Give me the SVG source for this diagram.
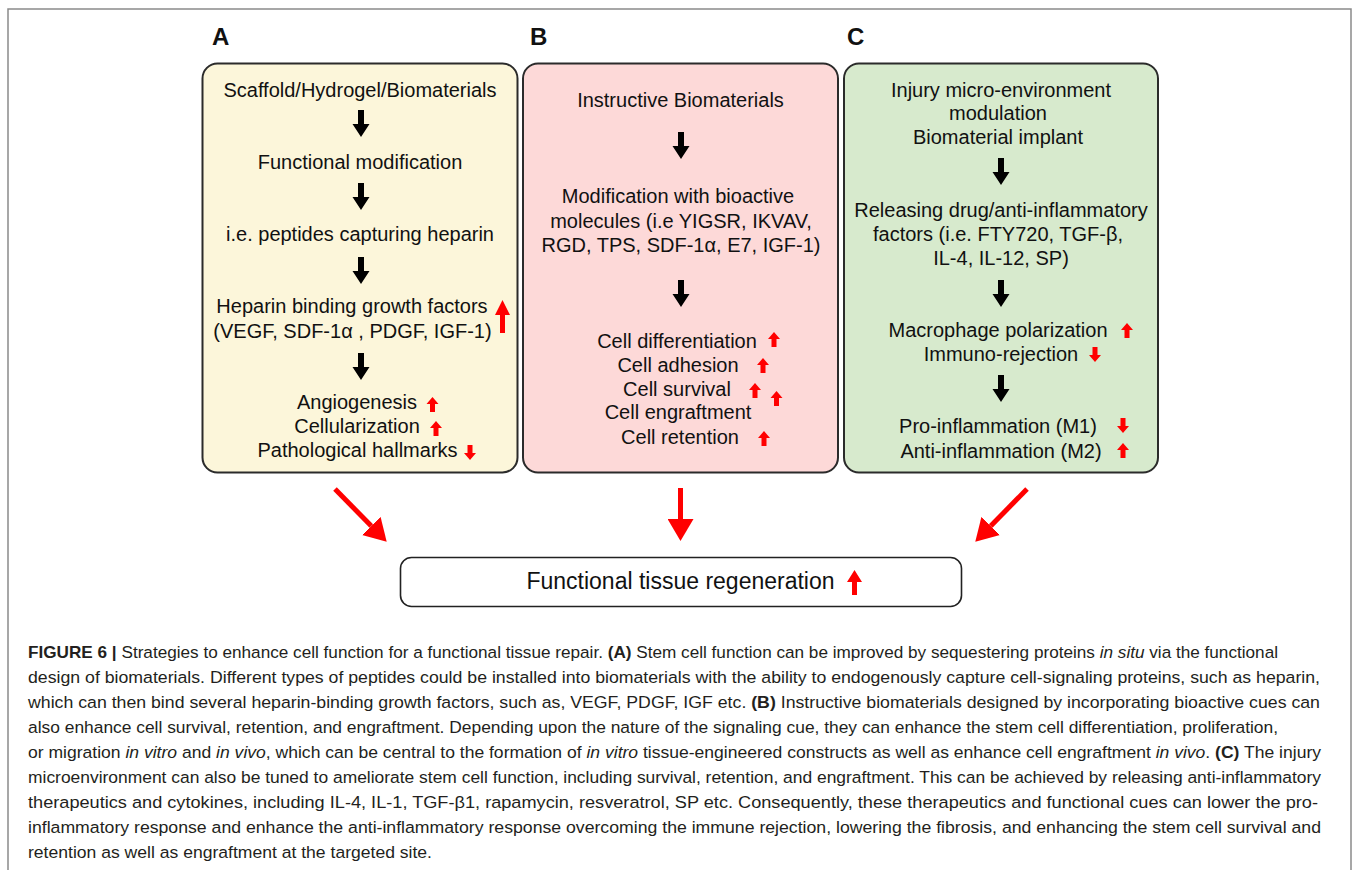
<svg xmlns="http://www.w3.org/2000/svg" width="1354" height="870" viewBox="0 0 1354 870">
<style>
.frame{fill:none;stroke:#8a8a8a;stroke-width:1.5}
.panel{stroke:#2b2b2b;stroke-width:2}
.t{font-family:"Liberation Sans",Arial,sans-serif;font-size:20px;fill:#111;text-anchor:middle}
.lbl{font-family:"Liberation Sans",Arial,sans-serif;font-size:24px;font-weight:bold;fill:#111}
.cap{font-family:"Liberation Sans",Arial,sans-serif;font-size:16.7px;fill:#231f20}
.b{font-weight:bold}
.i{font-style:italic}
.blk{fill:#000}
.red{fill:#ff0000}
.conn{stroke:#ff0000;stroke-width:5;fill:none}
</style>
<defs>
<path id="barrow" d="M-3,0 H3 V14 H8.5 L0,27 L-8.5,14 H-3 Z"/>
<path id="rup" d="M0,0 L6,7 H2.5 V15 H-2.5 V7 H-6 Z"/>
<path id="rdown" d="M-2.5,0 H2.5 V8 H6 L0,15 L-6,8 H-2.5 Z"/>
<marker id="rhead" markerUnits="userSpaceOnUse" markerWidth="22" markerHeight="26" viewBox="0 0 22 26" refX="0" refY="13" orient="auto">
<path d="M0,0 L22,13 L0,26 Z" fill="#ff0000"/>
</marker>
</defs>
<rect width="1354" height="870" fill="#fff"/>
<path class="frame" d="M8,870 V9 H1351 V870"/>

<g id="panel-A">
<text class="lbl" x="212" y="45">A</text>
<rect class="panel" x="202.5" y="63.5" width="315" height="409" rx="15" fill="#fcf6da"/>
<text class="t" x="360" y="97">Scaffold/Hydrogel/Biomaterials</text>
<use href="#barrow" x="361" y="110" class="blk"/>
<text class="t" x="360" y="169">Functional modification</text>
<use href="#barrow" x="361" y="183" class="blk"/>
<text class="t" x="360" y="241">i.e. peptides capturing heparin</text>
<use href="#barrow" x="361" y="257" class="blk"/>
<text class="t" x="352" y="313">Heparin binding growth factors</text>
<text class="t" x="352.5" y="338">(VEGF, SDF-1α , PDGF, IGF-1)</text>
<path class="red" d="M502.5,300 L510,315 H505 V333 H500 V315 H495 Z"/>
<use href="#barrow" x="361" y="353" class="blk"/>
<text class="t" x="357" y="409">Angiogenesis</text>
<use href="#rup" x="432.5" y="397" class="red"/>
<text class="t" x="357" y="433">Cellularization</text>
<use href="#rup" x="436" y="421" class="red"/>
<text class="t" x="357.5" y="457">Pathological hallmarks</text>
<use href="#rdown" x="470" y="445" class="red"/>
</g>

<g id="panel-B">
<text class="lbl" x="530" y="45">B</text>
<rect class="panel" x="523" y="63.5" width="315" height="409" rx="15" fill="#fdd9d8"/>
<text class="t" x="680.5" y="107">Instructive Biomaterials</text>
<use href="#barrow" x="681" y="132" class="blk"/>
<text class="t" x="678" y="203">Modification with bioactive</text>
<text class="t" x="681" y="228">molecules (i.e YIGSR, IKVAV,</text>
<text class="t" x="681" y="252">RGD, TPS, SDF-1α, E7, IGF-1)</text>
<use href="#barrow" x="681" y="280" class="blk"/>
<text class="t" x="677" y="348">Cell differentiation</text>
<use href="#rup" x="774" y="332" class="red"/>
<text class="t" x="678" y="372">Cell adhesion</text>
<use href="#rup" x="763" y="358" class="red"/>
<text class="t" x="677" y="396">Cell survival</text>
<use href="#rup" x="755" y="383" class="red"/>
<use href="#rup" x="776.5" y="391" class="red"/>
<text class="t" x="678" y="419">Cell engraftment</text>
<text class="t" x="680" y="444">Cell retention</text>
<use href="#rup" x="764" y="431" class="red"/>
</g>

<g id="panel-C">
<text class="lbl" x="847" y="45">C</text>
<rect class="panel" x="844" y="63.5" width="314" height="409" rx="15" fill="#d7eacd"/>
<text class="t" x="1001" y="97">Injury micro-environment</text>
<text class="t" x="998" y="120">modulation</text>
<text class="t" x="998" y="144">Biomaterial implant</text>
<use href="#barrow" x="1001" y="158" class="blk"/>
<text class="t" x="1001" y="217">Releasing drug/anti-inflammatory</text>
<text class="t" x="998" y="241">factors (i.e. FTY720, TGF-β,</text>
<text class="t" x="1001" y="265">IL-4, IL-12, SP)</text>
<use href="#barrow" x="1001" y="280" class="blk"/>
<text class="t" x="998" y="337">Macrophage polarization</text>
<use href="#rup" x="1127" y="323" class="red"/>
<text class="t" x="1001" y="361">Immuno-rejection</text>
<use href="#rdown" x="1095" y="347" class="red"/>
<use href="#barrow" x="1001" y="375" class="blk"/>
<text class="t" x="998" y="433">Pro-inflammation (M1)</text>
<use href="#rdown" x="1123" y="418" class="red"/>
<text class="t" x="1001" y="458">Anti-inflammation (M2)</text>
<use href="#rup" x="1123" y="443" class="red"/>
</g>

<g id="connectors">
<path class="conn" d="M335,489 L371.3,526" marker-end="url(#rhead)"/>
<path class="conn" d="M680.5,488 L680.5,519" marker-end="url(#rhead)"/>
<path class="conn" d="M1027,489 L990.7,526" marker-end="url(#rhead)"/>
</g>

<g id="node-result">
<rect x="400.5" y="557.5" width="561" height="49" rx="11" fill="#fff" stroke="#222" stroke-width="1.6"/>
<text class="t" x="680.5" y="589" style="font-size:23px">Functional tissue regeneration</text>
<path class="red" d="M854.5,570 L862,582 H857 V595 H852 V582 H847 Z"/>
</g>

<g id="caption">
<text class="cap" x="28" y="658" textLength="1250" lengthAdjust="spacingAndGlyphs"><tspan class="b">FIGURE 6 | </tspan>Strategies to enhance cell function for a functional tissue repair. <tspan class="b">(A)</tspan> Stem cell function can be improved by sequestering proteins <tspan class="i">in situ</tspan> via the functional</text>
<text class="cap" x="28" y="683" textLength="1292" lengthAdjust="spacingAndGlyphs">design of biomaterials. Different types of peptides could be installed into biomaterials with the ability to endogenously capture cell-signaling proteins, such as heparin,</text>
<text class="cap" x="28" y="708" textLength="1292" lengthAdjust="spacingAndGlyphs">which can then bind several heparin-binding growth factors, such as, VEGF, PDGF, IGF etc. <tspan class="b">(B)</tspan> Instructive biomaterials designed by incorporating bioactive cues can</text>
<text class="cap" x="28" y="733" textLength="1250" lengthAdjust="spacingAndGlyphs">also enhance cell survival, retention, and engraftment. Depending upon the nature of the signaling cue, they can enhance the stem cell differentiation, proliferation,</text>
<text class="cap" x="28" y="758" textLength="1293" lengthAdjust="spacingAndGlyphs">or migration <tspan class="i">in vitro</tspan> and <tspan class="i">in vivo</tspan>, which can be central to the formation of <tspan class="i">in vitro</tspan> tissue-engineered constructs as well as enhance cell engraftment <tspan class="i">in vivo</tspan>. <tspan class="b">(C)</tspan> The injury</text>
<text class="cap" x="28" y="783" textLength="1293" lengthAdjust="spacingAndGlyphs">microenvironment can also be tuned to ameliorate stem cell function, including survival, retention, and engraftment. This can be achieved by releasing anti-inflammatory</text>
<text class="cap" x="28" y="808" textLength="1290" lengthAdjust="spacingAndGlyphs">therapeutics and cytokines, including IL-4, IL-1, TGF-β1, rapamycin, resveratrol, SP etc. Consequently, these therapeutics and functional cues can lower the pro-</text>
<text class="cap" x="28" y="833" textLength="1293" lengthAdjust="spacingAndGlyphs">inflammatory response and enhance the anti-inflammatory response overcoming the immune rejection, lowering the fibrosis, and enhancing the stem cell survival and</text>
<text class="cap" x="28" y="858" textLength="404" lengthAdjust="spacingAndGlyphs">retention as well as engraftment at the targeted site.</text>
</g>
</svg>
